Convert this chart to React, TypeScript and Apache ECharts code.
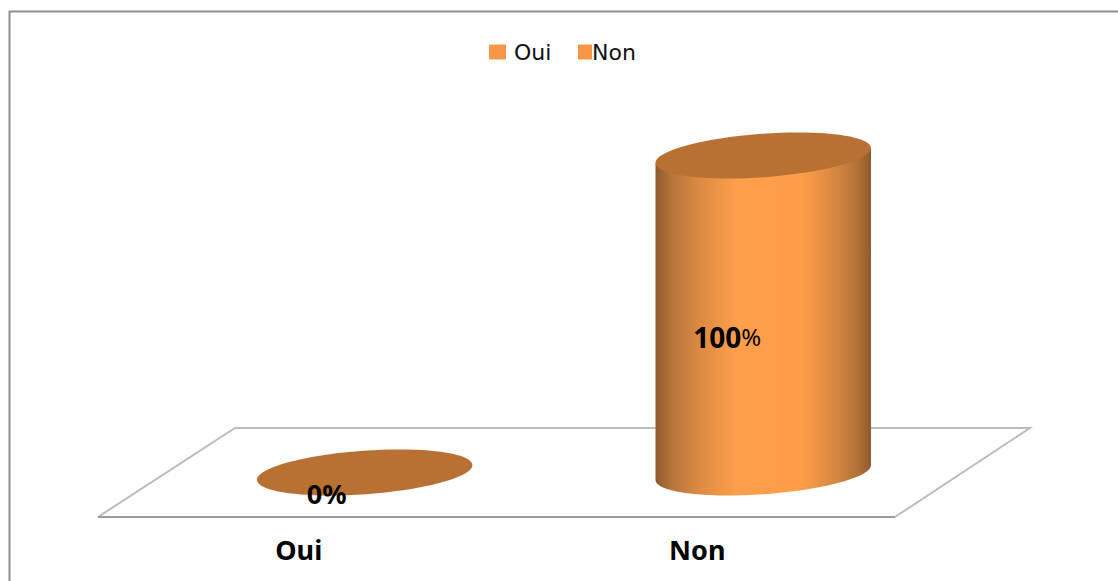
import React, { useEffect, useRef } from "react";
import * as echarts from "echarts";

const categories = ["Oui", "Non"];
const ouiValues = [0];
const nonValues = [100];
const maxValue = 100;

const FONT_LABEL = '"Noto Sans", sans-serif';
const FONT_LEGEND = '"DejaVu Sans", sans-serif';

// Floor depth in pixels: the cylinders stand halfway back on the floor.
const DEPTH_X = 137;
const DEPTH_Y = 89;
const BACK_INSET = 2;
const RX = 108;
const RY = 21.7;
const TILT = (-4.15 * Math.PI) / 180;

// Point of the tilted ellipse at parameter t, relative to its centre.
function ellipseAt(cx: number, cy: number, t: number) {
  const px = RX * Math.cos(t);
  const py = RY * Math.sin(t);
  return [cx + px * Math.cos(TILT) - py * Math.sin(TILT), cy + px * Math.sin(TILT) + py * Math.cos(TILT)];
}

const bodyGradient = {
  type: "linear",
  x: 0,
  y: 0,
  x2: 1,
  y2: 0,
  colorStops: [
    { offset: 0, color: "#8C5A2C" },
    { offset: 0.07, color: "#B4733A" },
    { offset: 0.2, color: "#DB8A42" },
    { offset: 0.38, color: "#FE9F4B" },
    { offset: 0.68, color: "#FF9C49" },
    { offset: 0.85, color: "#D38540" },
    { offset: 0.95, color: "#AB6D35" },
    { offset: 1, color: "#8C5A2C" },
  ],
};

function renderCylinder(_params: any, api: any) {
  const category = api.value(0);
  const value = api.value(1);
  const base = api.coord([category, 0]);
  const head = api.coord([category, value]);
  const mid = api.coord([category, value / 2]);
  const cx = base[0] + DEPTH_X / 2 - 1;
  const baseY = base[1] - DEPTH_Y / 2;
  const headY = head[1] - DEPTH_Y / 2;

  const children: any[] = [];
  if (value > 0) {
    // Silhouette: down the left side, round the near half of the base, up the right side.
    const t0 = Math.atan(-(RY / RX) * Math.tan(TILT));
    const points: number[][] = [ellipseAt(cx, headY, t0 + Math.PI)];
    const steps = 72;
    for (let i = 0; i <= steps; i++) {
      points.push(ellipseAt(cx, baseY, t0 + Math.PI - (Math.PI * i) / steps));
    }
    points.push(ellipseAt(cx, headY, t0));
    children.push({
      type: "polygon",
      shape: { points },
      style: { fill: bodyGradient },
    });
  }
  children.push({
    type: "ellipse",
    shape: { cx: 0, cy: 0, rx: RX, ry: RY },
    x: cx,
    y: headY,
    rotation: -TILT,
    style: { fill: "#B97033" },
  });
  const number = String(value);
  children.push({
    type: "text",
    x: base[0] + (value > 0 ? 31.5 : 29.5),
    y: mid[1] - (value > 0 ? 22 : 24),
    style:
      value > 0
        ? {
            text: `{b|${number}}{s|%}`,
            align: "center",
            verticalAlign: "middle",
            rich: {
              b: { fontFamily: FONT_LABEL, fontSize: 28, fontWeight: "bold", fill: "#000" },
              s: { fontFamily: FONT_LABEL, fontSize: 24, fill: "#000" },
            },
          }
        : {
            text: `${number}%`,
            align: "center",
            verticalAlign: "middle",
            fontFamily: FONT_LABEL,
            fontSize: 27,
            fontWeight: "bold",
            fill: "#000",
          },
  });
  return { type: "group", children };
}

function renderFloor(_params: any, api: any) {
  const left = api.coord([0, 0]);
  const right = api.coord([1, 0]);
  const band = right[0] - left[0];
  const x0 = left[0] - band / 2;
  const x1 = right[0] + band / 2;
  const y = left[1];
  return {
    type: "group",
    children: [
      {
        type: "polyline",
        shape: {
          points: [
            [x0, y],
            [x0 + DEPTH_X, y - DEPTH_Y],
            [x1 + DEPTH_X - BACK_INSET, y - DEPTH_Y],
            [x1, y],
          ],
        },
        style: { fill: "none", stroke: "#BCBCBC", lineWidth: 2 },
      },
      {
        type: "line",
        shape: { x1: x0, y1: y, x2: x1, y2: y },
        style: { stroke: "#9C9C9C", lineWidth: 2 },
      },
    ],
  };
}

export default function App() {
  const ref = useRef<HTMLDivElement>(null);

  useEffect(() => {
    const chart = echarts.init(ref.current!, undefined, { renderer: "svg" });
    chart.setOption({
      animation: false,
      backgroundColor: "#FFFFFF",
      graphic: [
        {
          type: "polyline",
          silent: true,
          z: -1,
          shape: { points: [[9.5, 581], [9.5, 11.5], [1118, 11.5]] },
          style: { fill: "none", stroke: "#8F8F8F", lineWidth: 2 },
        },
      ],
      legend: [
        {
          data: ["Oui"],
          left: 484,
          top: 36,
          itemWidth: 17,
          itemHeight: 15,
          icon: "rect",
          textStyle: { fontFamily: FONT_LEGEND, fontSize: 22, color: "#111", padding: [0, 0, 0, 3] },
        },
        {
          data: ["Non"],
          left: 573,
          top: 36,
          itemWidth: 14,
          itemHeight: 15,
          icon: "rect",
          textStyle: { fontFamily: FONT_LEGEND, fontSize: 22, color: "#111", padding: [0, 0, 0, -5] },
        },
      ],
      grid: { left: 98, top: 200, width: 797, height: 317, containLabel: false },
      xAxis: {
        type: "category",
        data: categories,
        axisLine: { show: false },
        axisTick: { show: false },
        axisLabel: {
          fontFamily: FONT_LABEL,
          fontSize: 27,
          fontWeight: "bold",
          color: "#000",
          margin: 19,
          padding: [0, 0, 0, 3],
        },
      },
      yAxis: {
        type: "value",
        min: 0,
        max: maxValue,
        show: false,
      },
      series: [
        {
          type: "custom",
          name: "floor",
          silent: true,
          clip: false,
          z: 1,
          renderItem: renderFloor,
          data: [[0, 0]],
          encode: { x: 0, y: 1 },
        },
        {
          type: "custom",
          name: "Oui",
          clip: false,
          z: 2,
          itemStyle: { color: "#F79646" },
          renderItem: renderCylinder,
          data: ouiValues.map((v) => [0, v]),
          encode: { x: 0, y: 1 },
        },
        {
          type: "custom",
          name: "Non",
          clip: false,
          z: 2,
          itemStyle: { color: "#F79646" },
          renderItem: renderCylinder,
          data: nonValues.map((v) => [1, v]),
          encode: { x: 0, y: 1 },
        },
      ],
    });
    return () => chart.dispose();
  }, []);

  return (
    <div
      ref={ref}
      style={{ position: "fixed", left: 0, top: 0, width: 1118, height: 581 }}
    />
  );
}
